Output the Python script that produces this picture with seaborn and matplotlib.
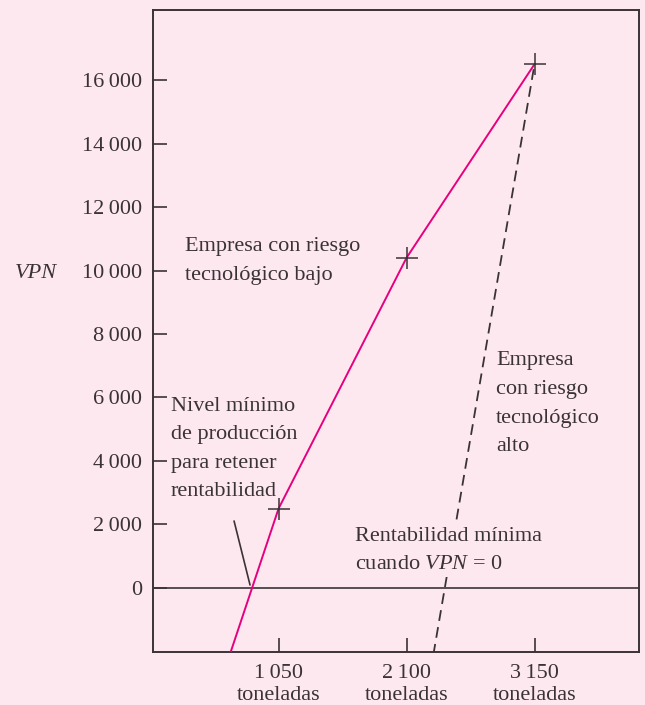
import matplotlib
matplotlib.use('Agg')
import matplotlib.pyplot as plt
import seaborn as sns

bg = '#fde8f0'
ink = '#3a3336'
pink = '#e6007e'

sns.set_theme(style='ticks')
plt.rcParams['font.family'] = ['Liberation Serif', 'DejaVu Serif']
plt.rcParams['mathtext.fontset'] = 'custom'
plt.rcParams['mathtext.rm'] = 'Liberation Serif'
plt.rcParams['mathtext.it'] = 'Liberation Serif:italic'

## Data
tons_low = [650, 1050, 2100, 3150]
vpn_low = [-2100, 2500, 10400, 16500]
tons_high = [2320, 3150]
vpn_high = [-2100, 16500]
mark_tons = [1050, 2100, 3150]
mark_vpn = [2500, 10400, 16500]
x_ticks = [1050, 2100, 3150]
x_labels = ['1\u2009050\ntoneladas', '2\u2009100\ntoneladas', '3\u2009150\ntoneladas']
y_ticks = [0, 2000, 4000, 6000, 8000, 10000, 12000, 14000, 16000]
y_labels = ['0', '2\u2009000', '4\u2009000', '6\u2009000', '8\u2009000',
            '10\u2009000', '12\u2009000', '14\u2009000', '16\u2009000']
leader_x = [685, 816]
leader_y = [2110, 95]

fig = plt.figure(figsize=(6.45, 7.05), dpi=100, facecolor=bg)
ax = fig.add_axes([153/645, 53/705, 486/645, 642/705])
ax.set_facecolor(bg)

# lines
ax.axhline(0, color=ink, lw=1.2, zorder=1)
sns.lineplot(x=tons_low, y=vpn_low, ax=ax, color=pink, lw=1.4, zorder=3)
sns.lineplot(x=tons_high, y=vpn_high, ax=ax, color=ink, lw=1.3,
             linestyle=(0, (6, 3.5)), zorder=2)
sns.scatterplot(x=mark_tons, y=mark_vpn, ax=ax, marker='+', s=230,
                color=ink, linewidth=1.1, zorder=4)
ax.plot(leader_x, leader_y, color=ink, lw=1.2)

ax.set_xlim(20, 4007)
ax.set_ylim(-2016, 18205)
ax.set_xticks(x_ticks, x_labels)
ax.set_yticks(y_ticks, y_labels)
ax.tick_params(direction='in', length=10, width=1.2, color=ink,
               labelsize=16, labelcolor=ink)
ax.tick_params(axis='y', pad=8)
ax.tick_params(axis='x', pad=9)
for s in ax.spines.values():
    s.set_color(ink)
    s.set_linewidth(1.4)

ax.set_ylabel('VPN', rotation=0, fontsize=16, style='italic', color=ink)
ax.yaxis.set_label_coords(-0.24, 0.575)

txt = dict(fontsize=16, color=ink, ha='left', va='top', linespacing=1.68)
ax.text(283, 11050, 'Empresa con riesgo\ntecnológico bajo', **txt)
ax.text(2834, 7450, 'Empresa\ncon riesgo\ntecnológico\nalto', **txt)
ax.text(168, 6020, 'Nivel mínimo\nde producción\npara retener\nrentabilidad', **txt)
ax.text(1677, 1930, 'Rentabilidad mínima\ncuando $\\mathit{VPN}$ = 0', zorder=5,
        bbox=dict(facecolor=bg, edgecolor='none', pad=2), **txt)

fig.savefig('out.png', dpi=100, facecolor=bg)
